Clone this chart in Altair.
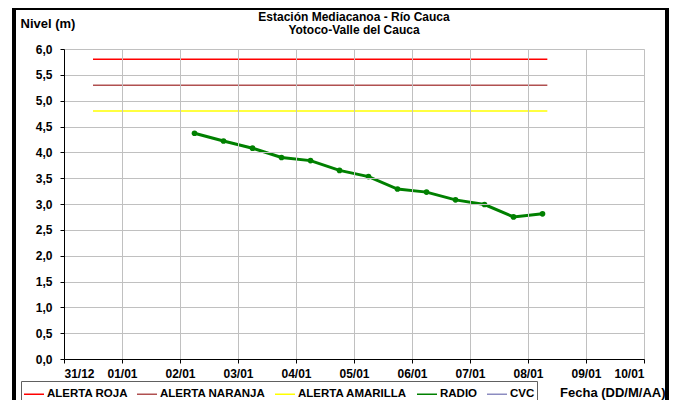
import altair as alt
import pandas as pd

# ---- data ----
series_order = ["ALERTA ROJA", "ALERTA NARANJA", "ALERTA AMARILLA", "RADIO", "CVC"]
series_colors = ["#ff0000", "#b05050", "#ffff00", "#008000", "#8c8cc0"]

alert_names = ["ALERTA ROJA", "ALERTA NARANJA", "ALERTA AMARILLA"]
alert_levels = [5.8, 5.3, 4.8]
alert_start = "2010-12-31T12:00:00Z"
alert_end = "2011-01-08T08:00:00Z"

radio_dates = [
    "2011-01-02T06:00:00Z", "2011-01-02T18:00:00Z",
    "2011-01-03T06:00:00Z", "2011-01-03T18:00:00Z",
    "2011-01-04T06:00:00Z", "2011-01-04T18:00:00Z",
    "2011-01-05T06:00:00Z", "2011-01-05T18:00:00Z",
    "2011-01-06T06:00:00Z", "2011-01-06T18:00:00Z",
    "2011-01-07T06:00:00Z", "2011-01-07T18:00:00Z",
    "2011-01-08T06:00:00Z",
]
radio_levels = [4.37, 4.22, 4.08, 3.90, 3.84, 3.65, 3.53, 3.29, 3.23, 3.08, 2.99, 2.75, 2.81]

tick_days = ["2010-12-31", "2011-01-01", "2011-01-02", "2011-01-03", "2011-01-04",
             "2011-01-05", "2011-01-06", "2011-01-07", "2011-01-08", "2011-01-09",
             "2011-01-10"]
y_ticks = [0, 0.5, 1, 1.5, 2, 2.5, 3, 3.5, 4, 4.5, 5, 5.5, 6]

title_lines = ["Estación Mediacanoa - Río  Cauca", "Yotoco-Valle del Cauca"]

# ---- tables ----
alerts = pd.DataFrame({
    "serie": alert_names,
    "nivel": alert_levels,
    "inicio": [alert_start] * 3,
    "fin": [alert_end] * 3,
})
radio = pd.DataFrame({"fecha": radio_dates, "nivel": radio_levels, "serie": "RADIO"})

tick_ms = [int(pd.Timestamp(d, tz="UTC").value // 10**6) for d in tick_days]

FONT = "Liberation Sans"

x_scale = alt.Scale(type="utc", domain=[tick_ms[0], tick_ms[-1]])
y_scale = alt.Scale(domain=[0, 6])

color = alt.Color(
    "serie:N",
    scale=alt.Scale(domain=series_order, range=series_colors),
    title=None,
    legend=alt.Legend(
        orient="none", legendX=-43, legendY=332, direction="horizontal",
        symbolType="stroke", symbolSize=400, symbolStrokeWidth=1.5,
        labelFont=FONT, labelFontSize=11.5, labelFontWeight="bold", labelColor="black",
        strokeColor="#606060", padding=2, columnPadding=6, labelOffset=2,
        values=series_order,
    ),
)

x_axis = alt.Axis(
    values=tick_ms, labelExpr="utcFormat(datum.value, '%d/%m')",
    title="Fecha (DD/M/AA)", titleAnchor="end", titleAlign="right",
    titleX=601, titleY=33, titleBaseline="middle",
    titleFont=FONT, titleFontSize=13, titleFontWeight="bold", titleColor="black",
    labelFont=FONT, labelFontSize=12, labelFontWeight="bold", labelColor="black",
    labelPadding=5, tickSize=4, tickColor="black", domainColor="black",
    gridColor="#c0c0c0", gridWidth=1, labelOverlap=False, zindex=1,
)
y_axis = alt.Axis(
    values=y_ticks, labelExpr="replace(format(datum.value, '.1f'), '.', ',')",
    title="Nivel (m)", titleAngle=0, titleAlign="left", titleBaseline="middle",
    titleX=-44, titleY=-26,
    titleFont=FONT, titleFontSize=13, titleFontWeight="bold", titleColor="black",
    labelFont=FONT, labelFontSize=12, labelFontWeight="bold", labelColor="black",
    labelPadding=8, tickSize=4, tickColor="black", domainColor="black",
    gridColor="#c0c0c0", gridWidth=1, zindex=1,
)

frame = alt.Chart(pd.DataFrame({"k": [0]})).mark_rect(
    fillOpacity=0, stroke="black", strokeWidth=4
).encode(
    x=alt.value(-50), x2=alt.value(603), y=alt.value(-41), y2=alt.value(420)
)

alert_rules = alt.Chart(alerts).mark_rule(strokeWidth=1.5).encode(
    x=alt.X("inicio:T", scale=x_scale, axis=x_axis),
    x2="fin:T",
    y=alt.Y("nivel:Q", scale=y_scale, axis=y_axis),
    color=color,
)

radio_line = alt.Chart(radio).mark_line(
    strokeWidth=3, point=alt.OverlayMarkDef(filled=True, size=32, color="#008000")
).encode(
    x=alt.X("fecha:T", scale=x_scale, axis=x_axis),
    y=alt.Y("nivel:Q", scale=y_scale, axis=y_axis),
    color=color,
)

chart = alt.layer(frame, alert_rules, radio_line).properties(
    width=580, height=310,
    autosize=alt.AutoSizeParams(type="none"),
    padding={"left": 56, "top": 41, "right": 25, "bottom": 41},
    title=alt.TitleParams(
        text=title_lines, font=FONT, fontSize=12, fontWeight="bold", color="black",
        anchor="middle", frame="group", offset=14, dy=45, lineHeight=13,
    ),
).configure_view(stroke=None).configure(background="white")

chart.save("out.html", embed_options={"renderer": "svg", "actions": False})
